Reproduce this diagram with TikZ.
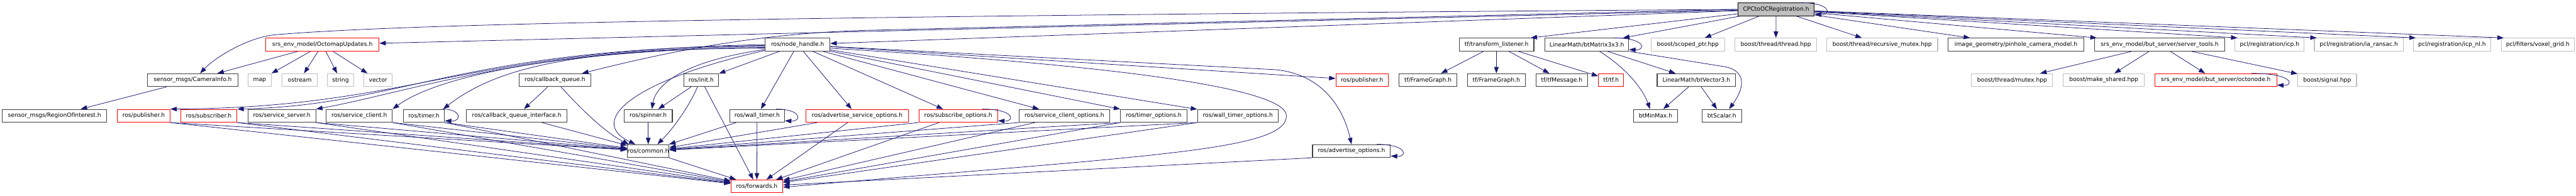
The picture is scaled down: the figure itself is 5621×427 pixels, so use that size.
\documentclass[tikz,border=0pt]{standalone}
\usepackage{fontspec}
\usetikzlibrary{arrows.meta}
\newfontfamily\dotfont{DejaVu Sans}
\definecolor{edgeblue}{RGB}{25, 25, 112}
\definecolor{boxline}{RGB}{64, 64, 64}
\definecolor{extline}{RGB}{191, 191, 191}
\definecolor{rootfill}{RGB}{191, 191, 191}
\newlength{\unitpx}
\setlength{\unitpx}{0.02cm}
\tikzset{
  hdr/.style={draw=boxline, line width=0.85pt, fill=white, inner sep=0pt,
    minimum height=28\unitpx, font=\dotfont\fontsize{7.15pt}{8.6pt}\selectfont},
  trunc/.style={hdr, draw=red},
  ext/.style={hdr, draw=extline},
  cur/.style={hdr, draw=black, fill=rootfill},
  wd/.style={minimum width=#1\unitpx},
  incl/.style={draw=edgeblue, line width=0.6pt, -{Triangle[length=8pt, width=5.7pt]}}
}

\begin{document}
\begin{tikzpicture}[x=0.02cm, y=-0.02cm]
\useasboundingbox (0,0) rectangle (5621,427);

% the documented header
\node[cur, wd=167] (root) at (3875.5,20.5) {CPCtoOCRegistration.h};

% first level includes
\node[trunc, wd=247] (octomap) at (703.5,97.5) {srs\_env\_model/OctomapUpdates.h};
\node[hdr, wd=141] (nh) at (1740.5,97.5) {ros/node\_handle.h};
\node[hdr, wd=163] (tflistener) at (3265.5,97.5) {tf/transform\_listener.h};
\node[hdr, wd=183] (btmatrix) at (3462.5,97.5) {LinearMath/btMatrix3x3.h};
\node[ext, wd=160] (scopedptr) at (3683,97.5) {boost/scoped\_ptr.hpp};
\node[ext, wd=178] (thread) at (3875,97.5) {boost/thread/thread.hpp};
\node[ext, wd=242] (recmutex) at (4107,97.5) {boost/thread/recursive\_mutex.hpp};
\node[hdr, wd=296] (pinhole) at (4399,97.5) {image\_geometry/pinhole\_camera\_model.h};
\node[hdr, wd=285] (servertools) at (4712.5,97.5) {srs\_env\_model/but\_server/server\_tools.h};
\node[ext, wd=151] (icp) at (4952.5,97.5) {pcl/registration/icp.h};
\node[ext, wd=194] (iaransac) at (5147,97.5) {pcl/registration/ia\_ransac.h};
\node[ext, wd=169] (icpnl) at (5350.5,97.5) {pcl/registration/icp\_nl.h};
\node[ext, wd=159] (voxelgrid) at (5537.5,97.5) {pcl/filters/voxel\_grid.h};

% second level
\node[hdr, wd=197] (camerainfo) at (420.5,175) {sensor\_msgs/CameraInfo.h};
\node[ext, wd=51] (map) at (566.5,175) {map};
\node[ext, wd=76] (ostream) at (654,175) {ostream};
\node[ext, wd=58] (string) at (743,175) {string};
\node[ext, wd=62] (vector) at (825,175) {vector};
\node[hdr, wd=156] (callbackqueue) at (1211,175) {ros/callback\_queue.h};
\node[hdr, wd=76] (init) at (1530,175) {ros/init.h};
\node[trunc, wd=114] (pubB) at (2972,175) {ros/publisher.h};
\node[hdr, wd=126] (framegraphA) at (3116,175) {tf/FrameGraph.h};
\node[hdr, wd=126] (framegraphB) at (3265,175) {tf/FrameGraph.h};
\node[hdr, wd=112] (tfmessage) at (3408,175) {tf/tfMessage.h};
\node[trunc, wd=55] (tftf) at (3515.5,175) {tf/tf.h};
\node[hdr, wd=171] (btvector) at (3701.5,175) {LinearMath/btVector3.h};
\node[ext, wd=177] (mutex) at (4390.5,175) {boost/thread/mutex.hpp};
\node[ext, wd=177] (makeshared) at (4590.5,175) {boost/make\_shared.hpp};
\node[trunc, wd=266] (octonode) at (4835,175) {srs\_env\_model/but\_server/octonode.h};
\node[ext, wd=128] (signal) at (5078,175) {boost/signal.hpp};

% third level
\node[hdr, wd=228] (roi) at (119,253) {sensor\_msgs/RegionOfInterest.h};
\node[trunc, wd=115] (pubA) at (313.5,253) {ros/publisher.h};
\node[trunc, wd=123] (subscriber) at (455.5,253) {ros/subscriber.h};
\node[hdr, wd=148] (srvserver) at (615,253) {ros/service\_server.h};
\node[hdr, wd=144] (srvclient) at (784,253) {ros/service\_client.h};
\node[hdr, wd=90] (timer) at (925,253) {ros/timer.h};
\node[hdr, wd=219] (cbqiface) at (1127.5,253) {ros/callback\_queue\_interface.h};
\node[hdr, wd=105] (spinner) at (1414.5,253) {ros/spinner.h};
\node[hdr, wd=120] (walltimer) at (1652,253) {ros/wall\_timer.h};
\node[trunc, wd=223] (advsrvopts) at (1870.5,253) {ros/advertise\_service\_options.h};
\node[trunc, wd=172] (subopts) at (2091,253) {ros/subscribe\_options.h};
\node[hdr, wd=197] (srvclientopts) at (2322.5,253) {ros/service\_client\_options.h};
\node[hdr, wd=145] (timeropts) at (2517.5,253) {ros/timer\_options.h};
\node[hdr, wd=176] (walltimeropts) at (2701,253) {ros/wall\_timer\_options.h};
\node[hdr, wd=95] (btminmax) at (3612.5,253) {btMinMax.h};
\node[hdr, wd=86] (btscalar) at (3757,253) {btScalar.h};

% fourth and fifth level
\node[hdr, wd=91] (common) at (1414.5,330) {ros/common.h};
\node[hdr, wd=170] (advopts) at (2949,330) {ros/advertise\_options.h};
\node[trunc, wd=113] (forwards) at (1651.5,407) {ros/forwards.h};

% includes of CPCtoOCRegistration.h
\draw[incl] ([xshift=-32\unitpx]root.north east) .. controls +(69,0) and +(37,2) .. ([yshift=4\unitpx]root.south east);
\draw[incl] (root) -- (octomap);
\draw[incl] (root) -- (nh);
\draw[incl] (root.west) .. controls (1800,35) and (900,50) .. (600,76) .. controls (540,82) and (470,125) .. ([xshift=16\unitpx]camerainfo.north);
\draw[incl] (root.west) -- (1900,66) .. controls (1650,72) and (1450,115) .. ([xshift=59\unitpx]callbackqueue.north);
\draw[incl] (root) -- ([xshift=-8\unitpx]tflistener.north east);
\draw[incl] (root) -- (btmatrix);
\draw[incl] (root) -- (scopedptr);
\draw[incl] (root) -- (thread);
\draw[incl] (root) -- (recmutex);
\draw[incl] (root) -- (pinhole);
\draw[incl] (root) -- ([xshift=6\unitpx]servertools.north west);
\draw[incl] (root) -- ([xshift=6\unitpx]icp.north west);
\draw[incl] (root) -- ([xshift=6\unitpx]iaransac.north west);
\draw[incl] (root) -- ([xshift=6\unitpx]icpnl.north west);
\draw[incl] (root) -- ([xshift=6\unitpx]voxelgrid.north west);

% OctomapUpdates.h
\draw[incl] (octomap) -- (camerainfo);
\draw[incl] (octomap) -- (map);
\draw[incl] (octomap) -- (ostream);
\draw[incl] (octomap) -- (string);
\draw[incl] (octomap) -- (vector);
\draw[incl] (camerainfo) -- (roi);

% node_handle.h
\draw[incl] (nh) -- (pubB);
\draw[incl] ([yshift=-4\unitpx]nh.east) -- (2780,152) .. controls (2880,160) and (2930,230) .. (advopts.north);
\draw[incl] ([yshift=-8\unitpx]nh.east) .. controls (2400,140) and (2807,190) .. (2807,253) .. controls (2807,330) and (2500,340) .. ([yshift=-2\unitpx]forwards.east);
\draw[incl] (nh) -- (walltimeropts);
\draw[incl] (nh) -- (timeropts);
\draw[incl] (nh) -- (srvclientopts);
\draw[incl] (nh) -- (subopts);
\draw[incl] (nh) -- (advsrvopts);
\draw[incl] (nh) -- (walltimer);
\draw[incl] (nh) -- (init);
\draw[incl] ([yshift=4\unitpx]nh.south west) .. controls (1480,135) and (1430,190) .. ([xshift=8\unitpx]spinner.north);
\draw[incl] ([yshift=2\unitpx]nh.south west) .. controls (1380,175) and (1280,265) .. ([xshift=-28\unitpx]common.north);
\draw[incl] ([yshift=-8\unitpx]nh.west) .. controls (1250,105) and (1080,150) .. ([xshift=42\unitpx]timer.north);
\draw[incl] ([yshift=-6\unitpx]nh.west) .. controls (1200,110) and (950,170) .. (srvclient.north east);
\draw[incl] ([yshift=-4\unitpx]nh.west) .. controls (1150,105) and (900,200) .. (srvserver.north east);
\draw[incl] ([yshift=-2\unitpx]nh.west) .. controls (1000,105) and (880,230) .. (subscriber.north east);
\draw[incl] (nh.west) .. controls (1000,110) and (900,235) .. (pubA.north east);

% callback queue, init, spinner
\draw[incl] (callbackqueue) -- (cbqiface);
\draw[incl] ([xshift=13\unitpx]callbackqueue.south) .. controls (1260,230) and (1320,290) .. ([xshift=-42\unitpx]common.north);
\draw[incl] (cbqiface) -- (common);
\draw[incl] (init) -- (spinner);
\draw[incl] ([xshift=-8\unitpx]init.south) .. controls (1505,230) and (1470,280) .. ([xshift=20\unitpx]common.north);
\draw[incl] (init) -- (forwards);
\draw[incl] (spinner) -- (common);
\draw[incl] (common) -- (forwards);

% ros headers down to common.h and forwards.h
\draw[incl] (pubA.south east) -- (common);
\draw[incl] (pubA.south east) -- (forwards);
\draw[incl] (subscriber.south east) -- (common);
\draw[incl] (subscriber.south east) -- (forwards);
\draw[incl] (srvserver.south east) -- (common);
\draw[incl] (srvserver.south east) -- (forwards);
\draw[incl] (srvclient.south east) -- (common);
\draw[incl] (srvclient.south east) -- (forwards);
\draw[incl] ([xshift=-5\unitpx]timer.north east) .. controls +(42,0) and +(37,2) .. ([yshift=4\unitpx]timer.south east);
\draw[incl] (timer.south east) -- (common);
\draw[incl] (timer.south east) -- (forwards);
\draw[incl] ([xshift=-19\unitpx]walltimer.north east) .. controls +(56,0) and +(37,2) .. ([yshift=4\unitpx]walltimer.south east);
\draw[incl] (walltimer) -- (common);
\draw[incl] (walltimer) -- (forwards);
\draw[incl] (advsrvopts) -- (common);
\draw[incl] (advsrvopts) -- (forwards);
\draw[incl] ([xshift=-34\unitpx]subopts.north east) .. controls +(71,0) and +(37,2) .. ([yshift=4\unitpx]subopts.south east);
\draw[incl] (subopts.south west) -- (common);
\draw[incl] (subopts) -- (forwards);
\draw[incl] (srvclientopts.south west) -- (common);
\draw[incl] (srvclientopts) -- (forwards);
\draw[incl] (timeropts.south west) -- (common);
\draw[incl] (timeropts.south west) -- (forwards);
\draw[incl] (walltimeropts.south west) -- (common);
\draw[incl] (walltimeropts.south west) -- (forwards);
\draw[incl] ([xshift=-31\unitpx]advopts.north east) .. controls +(68,0) and +(37,2) .. ([yshift=4\unitpx]advopts.south east);
\draw[incl] (advopts.south west) -- (forwards);

% tf and LinearMath
\draw[incl] (tflistener) -- (framegraphA);
\draw[incl] (tflistener) -- (framegraphB);
\draw[incl] (tflistener) -- (tfmessage);
\draw[incl] (tflistener) -- (tftf);
\draw[incl] ([xshift=-34\unitpx]btmatrix.north east) .. controls +(71,0) and +(37,2) .. ([yshift=4\unitpx]btmatrix.south east);
\draw[incl] (btmatrix) -- (btvector);
\draw[incl] ([xshift=28\unitpx]btmatrix.south) .. controls (3550,150) and (3585,195) .. ([xshift=-12\unitpx]btminmax.north);
\draw[incl] (btmatrix.south east) -- (3765,146) .. controls (3800,153) and (3815,180) .. ([xshift=16\unitpx]btscalar.north);
\draw[incl] (btvector) -- (btminmax);
\draw[incl] (btvector) -- (btscalar);

% server tools
\draw[incl] (servertools) -- (mutex);
\draw[incl] (servertools) -- (makeshared);
\draw[incl] (servertools) -- (octonode);
\draw[incl] (servertools) -- (signal);
\draw[incl] ([xshift=-56\unitpx]octonode.north east) .. controls +(93,0) and +(37,2) .. ([yshift=4\unitpx]octonode.south east);
\end{tikzpicture}
\end{document}
